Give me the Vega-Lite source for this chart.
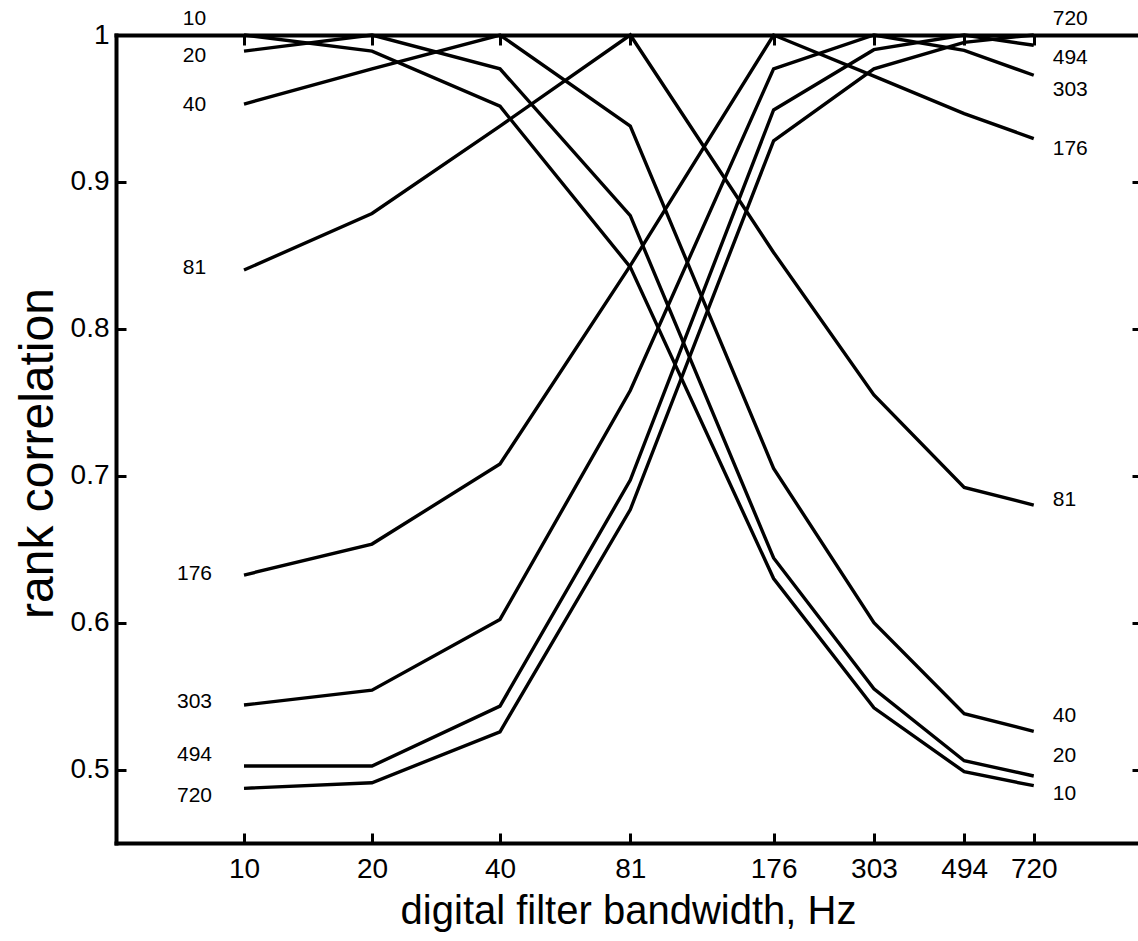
{
  "$schema": "https://vega.github.io/schema/vega-lite/v6.json",
  "width": 1024,
  "height": 808,
  "autosize": {"type": "none"},
  "padding": {"left": 116, "top": 35, "right": 0, "bottom": 98},
  "background": "white",
  "config": {"view": {"stroke": null}, "font": "Liberation Sans"},
  "datasets": {
    "corr": [
      {"series": "10", "bandwidth": 10, "r": 1}, {"series": "10", "bandwidth": 20, "r": 0.989}, {"series": "10", "bandwidth": 40, "r": 0.9515}, {"series": "10", "bandwidth": 81, "r": 0.842}, {"series": "10", "bandwidth": 176, "r": 0.63}, {"series": "10", "bandwidth": 303, "r": 0.542}, {"series": "10", "bandwidth": 494, "r": 0.4985}, {"series": "10", "bandwidth": 720, "r": 0.489},
      {"series": "20", "bandwidth": 10, "r": 0.989}, {"series": "20", "bandwidth": 20, "r": 1}, {"series": "20", "bandwidth": 40, "r": 0.977}, {"series": "20", "bandwidth": 81, "r": 0.877}, {"series": "20", "bandwidth": 176, "r": 0.644}, {"series": "20", "bandwidth": 303, "r": 0.555}, {"series": "20", "bandwidth": 494, "r": 0.506}, {"series": "20", "bandwidth": 720, "r": 0.4956},
      {"series": "40", "bandwidth": 10, "r": 0.953}, {"series": "40", "bandwidth": 20, "r": 0.977}, {"series": "40", "bandwidth": 40, "r": 1}, {"series": "40", "bandwidth": 81, "r": 0.938}, {"series": "40", "bandwidth": 176, "r": 0.705}, {"series": "40", "bandwidth": 303, "r": 0.6}, {"series": "40", "bandwidth": 494, "r": 0.538}, {"series": "40", "bandwidth": 720, "r": 0.526},
      {"series": "81", "bandwidth": 10, "r": 0.84}, {"series": "81", "bandwidth": 20, "r": 0.8785}, {"series": "81", "bandwidth": 40, "r": 0.938}, {"series": "81", "bandwidth": 81, "r": 1}, {"series": "81", "bandwidth": 176, "r": 0.852}, {"series": "81", "bandwidth": 303, "r": 0.755}, {"series": "81", "bandwidth": 494, "r": 0.692}, {"series": "81", "bandwidth": 720, "r": 0.68},
      {"series": "176", "bandwidth": 10, "r": 0.6324}, {"series": "176", "bandwidth": 20, "r": 0.6535}, {"series": "176", "bandwidth": 40, "r": 0.708}, {"series": "176", "bandwidth": 81, "r": 0.843}, {"series": "176", "bandwidth": 176, "r": 1}, {"series": "176", "bandwidth": 303, "r": 0.972}, {"series": "176", "bandwidth": 494, "r": 0.9465}, {"series": "176", "bandwidth": 720, "r": 0.9295},
      {"series": "303", "bandwidth": 10, "r": 0.5439}, {"series": "303", "bandwidth": 20, "r": 0.554}, {"series": "303", "bandwidth": 40, "r": 0.6022}, {"series": "303", "bandwidth": 81, "r": 0.758}, {"series": "303", "bandwidth": 176, "r": 0.977}, {"series": "303", "bandwidth": 303, "r": 1}, {"series": "303", "bandwidth": 494, "r": 0.9896}, {"series": "303", "bandwidth": 720, "r": 0.9726},
      {"series": "494", "bandwidth": 10, "r": 0.5024}, {"series": "494", "bandwidth": 20, "r": 0.5024}, {"series": "494", "bandwidth": 40, "r": 0.5432}, {"series": "494", "bandwidth": 81, "r": 0.697}, {"series": "494", "bandwidth": 176, "r": 0.949}, {"series": "494", "bandwidth": 303, "r": 0.99}, {"series": "494", "bandwidth": 494, "r": 1}, {"series": "494", "bandwidth": 720, "r": 0.993},
      {"series": "720", "bandwidth": 10, "r": 0.4872}, {"series": "720", "bandwidth": 20, "r": 0.491}, {"series": "720", "bandwidth": 40, "r": 0.5257}, {"series": "720", "bandwidth": 81, "r": 0.677}, {"series": "720", "bandwidth": 176, "r": 0.928}, {"series": "720", "bandwidth": 303, "r": 0.977}, {"series": "720", "bandwidth": 494, "r": 0.995}, {"series": "720", "bandwidth": 720, "r": 1}
    ],
    "leftLabels": [
      {"label": "10", "bandwidth": 10, "pos": 1.0115},
      {"label": "20", "bandwidth": 10, "pos": 0.9866},
      {"label": "40", "bandwidth": 10, "pos": 0.9527},
      {"label": "81", "bandwidth": 10, "pos": 0.8418},
      {"label": "176", "bandwidth": 10, "pos": 0.6341},
      {"label": "303", "bandwidth": 10, "pos": 0.5468},
      {"label": "494", "bandwidth": 10, "pos": 0.5104},
      {"label": "720", "bandwidth": 10, "pos": 0.483}
    ],
    "rightLabels": [
      {"label": "720", "bandwidth": 720, "pos": 1.0115},
      {"label": "494", "bandwidth": 720, "pos": 0.9851},
      {"label": "303", "bandwidth": 720, "pos": 0.963},
      {"label": "176", "bandwidth": 720, "pos": 0.9233},
      {"label": "81", "bandwidth": 720, "pos": 0.684},
      {"label": "40", "bandwidth": 720, "pos": 0.5371},
      {"label": "20", "bandwidth": 720, "pos": 0.5102},
      {"label": "10", "bandwidth": 720, "pos": 0.4843}
    ]
  },
  "layer": [
    {
      "data": {"name": "corr"},
      "mark": {"type": "line", "color": "black", "strokeWidth": 3.4, "clip": false},
      "encoding": {
        "x": {
          "field": "bandwidth", "type": "quantitative",
          "scale": {"type": "log", "domain": [5, 1280], "nice": false},
          "axis": {
            "orient": "bottom", "values": [10, 20, 40, 81, 176, 303, 494, 720],
            "grid": false, "domainColor": "black", "domainWidth": 4, "domainCap": "square",
            "tickColor": "black", "tickWidth": 3, "tickSize": -10,
            "labelFont": "Liberation Sans", "labelFontSize": 28, "labelColor": "black", "labelPadding": 22,
            "labelFlush": false, "labelOverlap": false, "format": "d",
            "title": "digital filter bandwidth, Hz", "titleFont": "Liberation Sans", "titleFontSize": 40,
            "titleFontWeight": "normal", "titleColor": "black", "titleBaseline": "alphabetic", "titleY": 80
          }
        },
        "y": {
          "field": "r", "type": "quantitative",
          "scale": {"domain": [0.45, 1], "nice": false, "zero": false},
          "axis": {
            "orient": "left", "values": [0.5, 0.6, 0.7, 0.8, 0.9, 1],
            "labelExpr": "datum.value == 1 ? '1' : format(datum.value, '.1f')",
            "grid": false, "domainColor": "black", "domainWidth": 4, "domainCap": "square",
            "tickColor": "black", "tickWidth": 3, "tickSize": -10,
            "labelFont": "Liberation Sans", "labelFontSize": 28, "labelColor": "black", "labelPadding": 17,
            "labelFlush": false, "labelOverlap": false,
            "title": "rank correlation", "titleFont": "Liberation Sans", "titleFontSize": 48,
            "titleFontWeight": "normal", "titleColor": "black", "titleBaseline": "alphabetic",
            "titleX": -64, "titleY": 418, "titleAngle": -90
          }
        },
        "detail": {"field": "series", "type": "nominal"}
      }
    },
    {
      "data": {"name": "leftLabels"},
      "mark": {"type": "text", "font": "Liberation Sans", "fontSize": 21, "color": "black", "align": "center", "baseline": "middle", "dx": -49.5, "dy": 1},
      "encoding": {
        "x": {
          "field": "bandwidth", "type": "quantitative",
          "scale": {"type": "log", "domain": [5, 1280], "nice": false},
          "axis": {
            "orient": "top", "values": [10, 20, 40, 81, 176, 303, 494, 720], "labels": false, "title": null,
            "grid": false, "domainColor": "black", "domainWidth": 4, "domainCap": "square",
            "tickColor": "black", "tickWidth": 3, "tickSize": -10
          }
        },
        "y": {
          "field": "pos", "type": "quantitative",
          "scale": {"domain": [0.45, 1], "nice": false, "zero": false},
          "axis": {
            "orient": "right", "values": [0.5, 0.6, 0.7, 0.8, 0.9, 1], "labels": false, "title": null,
            "grid": false, "domainColor": "black", "domainWidth": 4, "domainCap": "square",
            "tickColor": "black", "tickWidth": 3, "tickSize": -8
          }
        },
        "text": {"field": "label", "type": "nominal"}
      }
    },
    {
      "data": {"name": "rightLabels"},
      "mark": {"type": "text", "font": "Liberation Sans", "fontSize": 21, "color": "black", "align": "left", "baseline": "middle", "dx": 19, "dy": 1},
      "encoding": {
        "x": {"field": "bandwidth", "type": "quantitative", "scale": {"type": "log", "domain": [5, 1280], "nice": false}, "axis": null},
        "y": {"field": "pos", "type": "quantitative", "scale": {"domain": [0.45, 1], "nice": false, "zero": false}, "axis": null},
        "text": {"field": "label", "type": "nominal"}
      }
    }
  ],
  "resolve": {"axis": {"x": "independent", "y": "independent"}}
}
